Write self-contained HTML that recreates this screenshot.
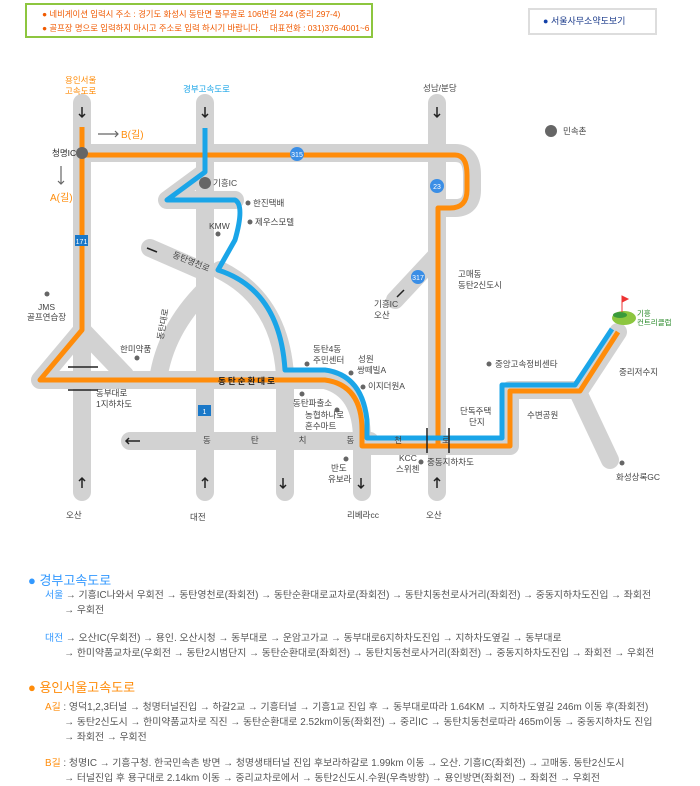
<!DOCTYPE html>
<html><head><meta charset="utf-8"><style>
body{margin:0;background:#fff;width:700px;height:786px;overflow:hidden;font-family:"Liberation Sans","Noto Sans CJK KR",sans-serif;}
.t{position:absolute;white-space:nowrap;}
</style></head><body>
<div class="t" style="left:25px;top:3px;width:344px;height:31px;border:2px solid #8dc63f;"></div>
<div class="t" style="left:42px;top:7px;font-size:8.4px;color:#f05a00;line-height:14px;">● 네비게이션 입력시 주소 : 경기도 화성시 동탄면 풀무골로 106번길 244 (중리 297-4)<br>● 골프장 명으로 입력하지 마시고 주소로 입력 하시기 바랍니다.&nbsp;&nbsp;&nbsp; 대표전화 : 031)376-4001~6</div>
<div class="t" style="left:528px;top:8px;width:125px;height:23px;border:2px solid #ddd;"></div>
<div class="t" style="left:543px;top:14px;font-size:9px;color:#1a3a8a;"><span style="color:#1240a8">●</span> 서울사무소약도보기</div>

<svg style="position:absolute;left:0;top:0" width="700" height="560" font-family="Liberation Sans, Noto Sans CJK KR, sans-serif">
<g fill="none" stroke="#d2d2d2" stroke-width="18" stroke-linecap="round" stroke-linejoin="round">
<path d="M82,103 V492"/>
<path d="M205,103 V492"/>
<path d="M437,103 V492"/>
<path d="M82,153 H455 Q472,153 472,175 V190 Q472,208 455,208 H437"/>
<path d="M205,172 L167,200 H235"/>
<path d="M82,330 L40,380 H330"/>
<path d="M82,330 L125,375"/>
<path d="M150,248 L205,272"/>
<path d="M205,290 Q165,330 158,380"/>
<path d="M220,270 Q280,300 285,375 V492"/>
<path d="M130,441 H370"/>
<path d="M325,380 Q362,390 362,440 V492"/>
<path d="M362,446 H510 V390 H580 L618,332"/>
<path d="M578,392 L610,460"/>
<path d="M437,255 L395,300"/>
</g>
<g fill="none" stroke="#ff8c0a" stroke-width="5" stroke-linejoin="round">
<path d="M82,127 V330 L40,380 H325 Q362,385 362,430 V446 H510 V391 H580 L618,332"/>
<path d="M82,155 H455 Q467,155 467,175 V190 Q467,208 450,208 H438 V446"/>
</g>
<path d="M205,128 V172 L167,200 H235 Q245,205 235,240 L218,270 Q280,290 285,370 H325 Q362,375 367,420 V438 H502 V385 H575 L612,329" fill="none" stroke="#1aa5e8" stroke-width="5" stroke-linejoin="round"/>
<g fill="#666"><circle cx="82" cy="153" r="6"/><circle cx="205" cy="183" r="6"/><circle cx="551" cy="131" r="6"/>
<circle cx="248" cy="203" r="2.5"/><circle cx="250" cy="222" r="2.5"/><circle cx="218" cy="234" r="2.5"/><circle cx="47" cy="294" r="2.5"/>
<circle cx="137" cy="358" r="2.5"/><circle cx="307" cy="364" r="2.5"/><circle cx="351" cy="373" r="2.5"/><circle cx="363" cy="387" r="2.5"/>
<circle cx="302" cy="394" r="2.5"/><circle cx="337" cy="410" r="2.5"/><circle cx="346" cy="459" r="2.5"/><circle cx="421" cy="462" r="2.5"/>
<circle cx="489" cy="364" r="2.5"/><circle cx="622" cy="463" r="2.5"/></g>
<g fill="#3a8ee6"><circle cx="297" cy="154" r="7"/><circle cx="437" cy="186" r="7"/><circle cx="418" cy="277" r="7"/></g>
<g font-size="7" fill="#fff" text-anchor="middle"><text x="297" y="157">315</text><text x="437" y="189">23</text><text x="418" y="280">317</text></g>
<rect x="75" y="235" width="13" height="11" fill="#1a78c8"/><text x="81.5" y="244" font-size="7" fill="#fff" text-anchor="middle">171</text>
<rect x="198" y="405" width="13" height="11" fill="#1a78c8"/><text x="204.5" y="414" font-size="7" fill="#fff" text-anchor="middle">1</text>
<g stroke="#222" stroke-width="1.5" fill="none">
<path d="M82,107 v10 m-3,-3 l3,3 3,-3"/><path d="M205,107 v10 m-3,-3 l3,3 3,-3"/><path d="M437,107 v10 m-3,-3 l3,3 3,-3"/>
<path d="M82,488 v-10 m-3,3 l3,-3 3,3"/><path d="M205,488 v-10 m-3,3 l3,-3 3,3"/><path d="M437,488 v-10 m-3,3 l3,-3 3,3"/>
<path d="M283,478 v10 m-3,-3 l3,3 3,-3"/><path d="M361,478 v10 m-3,-3 l3,3 3,-3"/>
<path d="M126,441 h14 m-11,-3 l-3,3 3,3"/>
<path d="M147,248 l10,4"/><path d="M404,290 l-7,7"/>
<path d="M68,367 h30 M68,390 h30"/><path d="M427,428 v25 M449,428 v25"/>
</g>
<g stroke="#666" stroke-width="1.2" fill="none"><path d="M98,134 h20 m-3,-3 l3,3 -3,3"/><path d="M61,166 v18 m-3,-3 l3,3 3,-3"/></g>
<path d="M612,318 a12,7 0 1 0 24,0 a12,7 0 1 0 -24,0" fill="#8cc63f"/>
<ellipse cx="620" cy="315" rx="7" ry="3" fill="#3a9a3a"/>
<path d="M622,312 V296 L628,299 L622,302" stroke="#e33" fill="#e33" stroke-width="1"/>
<g font-size="8.5" fill="#444">
<text x="52" y="156" fill="#222">청명IC</text>
<text x="213" y="186">기흥IC</text><text x="253" y="206">한진택배</text><text x="255" y="225">제우스모텔</text><text x="209" y="229">KMW</text>
<text x="38" y="310">JMS</text><text x="27" y="320">골프연습장</text><text x="120" y="352">한미약품</text>
<text x="96" y="396">동부대로</text><text x="96" y="407">1지하차도</text>
<text x="313" y="352">동탄4동</text><text x="313" y="363">주민센터</text><text x="358" y="362">성원</text><text x="357" y="373">쌍떼빌A</text><text x="368" y="389">이지더원A</text>
<text x="293" y="406">동탄파출소</text><text x="305" y="418">농협하나로</text><text x="305" y="429">혼수마트</text>
<text x="331" y="471">반도</text><text x="328" y="482">유보라</text><text x="399" y="461">KCC</text><text x="396" y="472">스위첸</text><text x="427" y="465">중동지하차도</text>
<text x="347" y="518">리베라cc</text><text x="426" y="518">오산</text><text x="190" y="520">대전</text><text x="66" y="518">오산</text>
<text x="423" y="91">성남/분당</text><text x="563" y="134">민속촌</text>
<text x="458" y="277">고매동</text><text x="458" y="288">동탄2신도시</text><text x="374" y="307">기흥IC</text><text x="374" y="318">오산</text>
<text x="495" y="367">중앙고속정비센타</text><text x="619" y="375">중리저수지</text><text x="460" y="414">단독주택</text><text x="469" y="425">단지</text>
<text x="527" y="418">수변공원</text><text x="616" y="480">화성상록GC</text>
<text x="183" y="92" fill="#1aa5e8">경부고속도로</text><text x="65" y="83" fill="#ff8c0a">용인서울</text><text x="65" y="94" fill="#ff8c0a">고속도로</text>
<text x="637" y="316" fill="#2a8a2a" font-size="7.5">기흥</text><text x="637" y="325" fill="#2a8a2a" font-size="7.5">컨트리클럽</text>
<text x="218" y="384" fill="#222" font-weight="bold" letter-spacing="2">동탄순환대로</text>
<text x="203" y="443" letter-spacing="40">동탄치동천로</text>
<text x="172" y="257" transform="rotate(22 172 257)">동탄영천로</text>
<text x="163" y="340" transform="rotate(-80 163 340)">동탄대로</text>
</g>
<text x="121" y="138" font-size="10" fill="#ff8c0a">B(길)</text><text x="50" y="201" font-size="10" fill="#ff8c0a">A(길)</text>
</svg>

<div class="t" style="left:28px;top:570px;font-size:13px;color:#3399ff;">● 경부고속도로</div>
<div class="t" style="left:45px;top:588px;font-size:9.9px;color:#555;line-height:15px;"><span style="color:#3399ff">서울</span> → 기흥IC나와서 우회전 → 동탄영천로(좌회전) → 동탄순환대로교차로(좌회전) → 동탄치동천로사거리(좌회전) → 중동지하차도진입 → 좌회전<br>&nbsp;&nbsp;&nbsp;&nbsp;&nbsp;&nbsp;&nbsp;→ 우회전</div>
<div class="t" style="left:45px;top:631px;font-size:9.9px;color:#555;line-height:15px;"><span style="color:#3399ff">대전</span> → 오산IC(우회전) → 용인. 오산시청 → 동부대로 → 운암고가교 → 동부대로6지하차도진입 → 지하차도옆길 → 동부대로<br>&nbsp;&nbsp;&nbsp;&nbsp;&nbsp;&nbsp;&nbsp;→ 한미약품교차로(우회전 → 동탄2시범단지 → 동탄순환대로(좌회전) → 동탄치동천로사거리(좌회전) → 중동지하차도진입 → 좌회전 → 우회전</div>
<div class="t" style="left:28px;top:677px;font-size:13px;color:#ff8c0a;">● 용인서울고속도로</div>
<div class="t" style="left:45px;top:700px;font-size:9.9px;color:#555;line-height:15px;"><span style="color:#ff8c0a">A길</span> : 영덕1,2,3터널 → 청명터널진입 → 하갈2교 → 기흥터널 → 기흥1교 진입 후 → 동부대로따라 1.64KM → 지하차도옆길 246m 이동 후(좌회전)<br>&nbsp;&nbsp;&nbsp;&nbsp;&nbsp;&nbsp;&nbsp;→ 동탄2신도시 → 한미약품교차로 직진 → 동탄순환대로 2.52km이동(좌회전) → 중리IC → 동탄치동천로따라 465m이동 → 중동지하차도 진입<br>&nbsp;&nbsp;&nbsp;&nbsp;&nbsp;&nbsp;&nbsp;→ 좌회전 → 우회전</div>
<div class="t" style="left:45px;top:756px;font-size:9.9px;color:#555;line-height:15px;"><span style="color:#ff8c0a">B길</span> : 청명IC → 기흥구청. 한국민속촌 방면 → 청명생태터널 진입 후보라하갈로 1.99km 이동 → 오산. 기흥IC(좌회전) → 고매동. 동탄2신도시<br>&nbsp;&nbsp;&nbsp;&nbsp;&nbsp;&nbsp;&nbsp;→ 터널진입 후 용구대로 2.14km 이동 → 중리교차로에서 → 동탄2신도시.수원(우측방향) → 용인방면(좌회전) → 좌회전 → 우회전</div>
</body></html>
